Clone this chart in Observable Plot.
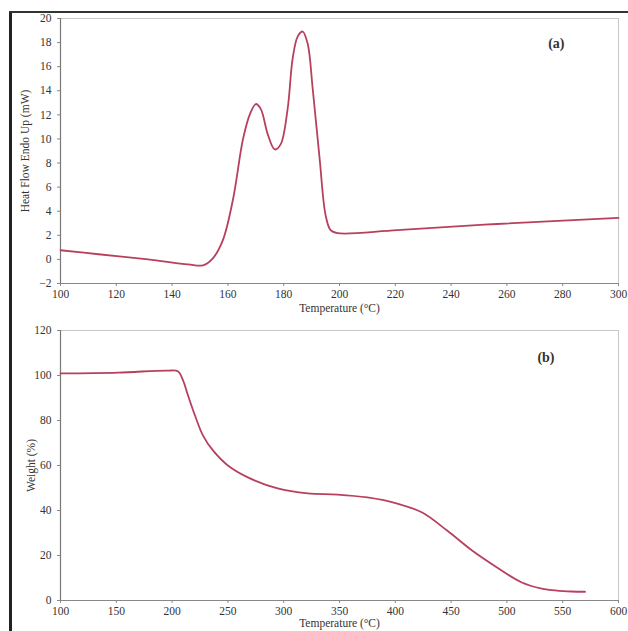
<!DOCTYPE html>
<html>
<head>
<meta charset="utf-8">
<script src="https://cdn.jsdelivr.net/npm/d3@7"></script>
<script src="https://cdn.jsdelivr.net/npm/@observablehq/plot@0.6"></script>
<style>
  html, body { margin: 0; padding: 0; background: #fff; overflow: hidden; }
  #wrap { position: relative; width: 628px; height: 631px; overflow: hidden; font-family: "Liberation Serif", serif; }
  #wrap svg { display: block; max-width: none; }
  #lborder { position: absolute; left: 9px; top: 11px; width: 3px; height: 620px; background: #222; }
  #tborder { position: absolute; left: 9px; top: 11px; width: 619px; height: 2px; background: #333; }
</style>
</head>
<body>
<div id="wrap">
  <div id="a"></div>
  <div id="b"></div>
  <div id="lborder"></div>
  <div id="tborder"></div>
</div>
<script>
// Panel (a): DSC
const dscTemp = [100, 113.6, 131.4, 145.7, 151.1, 154.6, 158.2, 161.8, 165.4, 167.9, 170, 171.8, 174.3, 176.8, 178.9, 181.4, 183.2, 185, 186.8, 188.6, 190.4, 192.9, 195, 196.8, 199.3, 220.7, 256.4, 300];
const dscHeat = [0.76, 0.43, 0.0, -0.41, -0.49, 0.09, 1.6, 4.95, 9.97, 12.06, 12.9, 12.48, 10.38, 9.13, 9.55, 12.48, 16.66, 18.5, 18.92, 17.9, 14.15, 8.3, 3.7, 2.43, 2.18, 2.43, 2.94, 3.44];
const dscXTicks = [100, 120, 140, 160, 180, 200, 220, 240, 260, 280, 300];
const dscYTicks = [-2, 0, 2, 4, 6, 8, 10, 12, 14, 16, 18, 20];

// Panel (b): TGA
const tgaTemp = [100, 151.8, 196.4, 205.4, 209.8, 214.3, 220.5, 227.7, 236.6, 250, 267.9, 294.6, 321.4, 348.2, 375, 401.8, 424.1, 446.4, 468.8, 491.1, 513.4, 531.3, 544.6, 558, 570];
const tgaWeight = [100.9, 101.3, 102.2, 101.8, 97.8, 91.1, 82.2, 73.3, 66.7, 60, 54.7, 49.8, 47.6, 47.1, 45.8, 43.1, 39.1, 31.1, 22.2, 14.7, 8, 5.3, 4.4, 4, 3.9];
const tgaXTicks = [100, 150, 200, 250, 300, 350, 400, 450, 500, 550, 600];
const tgaYTicks = [0, 20, 40, 60, 80, 100, 120];

const lineColor = "#b8405f";
const fontFam = "Liberation Serif, serif";

const dsc = dscTemp.map((t, i) => ({t, v: dscHeat[i]}));
const tga = tgaTemp.map((t, i) => ({t, v: tgaWeight[i]}));

const common = {
  width: 628,
  style: {fontFamily: fontFam, fontSize: "7.5px", color: "#555", background: "#fff", overflow: "visible", maxWidth: "none"}
};

const plotA = Plot.plot({
  ...common,
  height: 315,
  marginLeft: 60, marginRight: 10, marginTop: 18, marginBottom: 32,
  x: {domain: [100, 300]},
  y: {domain: [-2, 20]},
  marks: [
    Plot.frame({stroke: "#c8c8c8"}),
    Plot.axisX({ticks: dscXTicks, tickSize: 3, tickPadding: 3, stroke: "#888", fill: "#666",
      label: "Temperature (°C)", labelAnchor: "center", labelArrow: "none", labelOffset: 28}),
    Plot.axisY({ticks: dscYTicks, tickSize: 3, tickPadding: 6, stroke: "#888", fill: "#666",
      label: "Heat Flow Endo Up (mW)", labelAnchor: "center", labelArrow: "none", labelOffset: 40}),
    Plot.ruleX([100], {stroke: "#777", strokeWidth: 1.2}),
    Plot.ruleY([-2], {stroke: "#888", strokeWidth: 1.2}),
    Plot.line(dsc, {x: "t", y: "v", curve: "catmull-rom", stroke: lineColor, strokeWidth: 1.8}),
    Plot.text(["(a)"], {frameAnchor: "top-right", dx: -54, dy: 20, fontSize: 14, fontWeight: "bold", fill: "#333", fontFamily: fontFam})
  ]
});

const plotB = Plot.plot({
  ...common,
  height: 316,
  marginLeft: 60, marginRight: 10, marginTop: 15, marginBottom: 31,
  x: {domain: [100, 600]},
  y: {domain: [0, 120]},
  marks: [
    Plot.frame({stroke: "#c8c8c8"}),
    Plot.axisX({ticks: tgaXTicks, tickSize: 3, tickPadding: 3, stroke: "#888", fill: "#666",
      label: "Temperature (°C)", labelAnchor: "center", labelArrow: "none", labelOffset: 26}),
    Plot.axisY({ticks: tgaYTicks, tickSize: 3, tickPadding: 6, stroke: "#888", fill: "#666",
      label: "Weight (%)", labelAnchor: "center", labelArrow: "none", labelOffset: 34}),
    Plot.ruleX([100], {stroke: "#777", strokeWidth: 1.2}),
    Plot.ruleY([0], {stroke: "#888", strokeWidth: 1.2}),
    Plot.line(tga, {x: "t", y: "v", curve: "catmull-rom", stroke: lineColor, strokeWidth: 1.8}),
    Plot.text(["(b)"], {frameAnchor: "top-right", dx: -64, dy: 22, fontSize: 14, fontWeight: "bold", fill: "#333", fontFamily: fontFam})
  ]
});

// enlarge axis-label fonts
for (const p of [plotA, plotB]) {
  p.querySelectorAll("g[aria-label$='label'] text").forEach(t => {
    t.setAttribute("font-size", "11.5px");
    t.setAttribute("fill", "#333");
  });
}

document.getElementById("a").appendChild(plotA);
document.getElementById("b").appendChild(plotB);
</script>
</body>
</html>
